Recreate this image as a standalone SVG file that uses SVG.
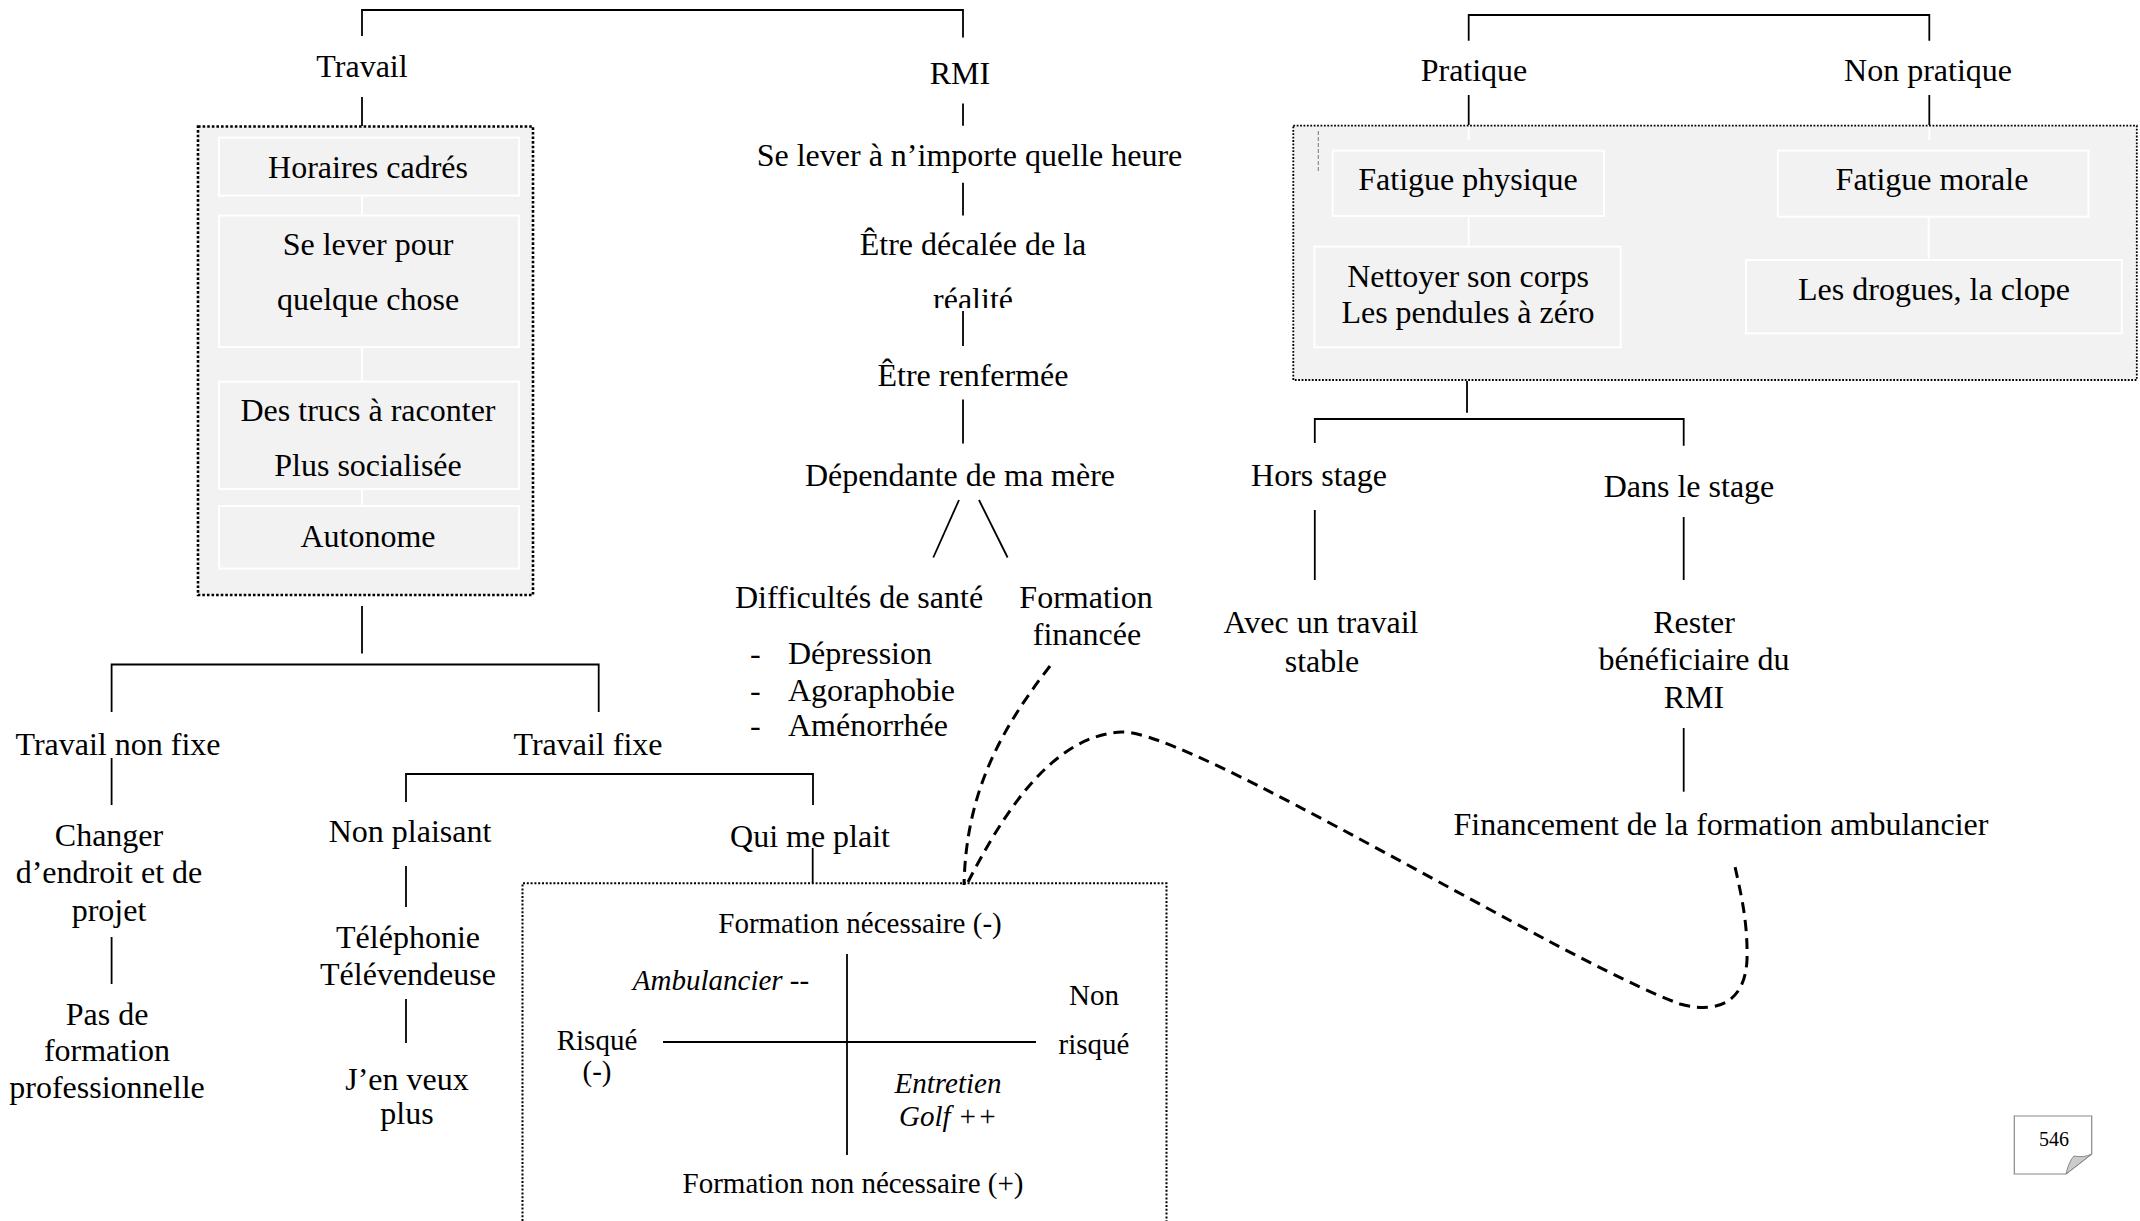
<svg xmlns="http://www.w3.org/2000/svg" width="2140" height="1221" viewBox="0 0 2140 1221">
<defs>
<style>
.t{font-family:"Liberation Serif","Times New Roman",serif;font-size:32px;fill:#000;text-anchor:middle}
.s{text-anchor:start}
.q{font-size:29px}
.i{font-style:italic}
.ln{stroke:#000;stroke-width:1.8;fill:none}
.wl{stroke:#fff;stroke-width:2;fill:none}
.dotA{fill:#f2f2f2;stroke:#000;stroke-width:2.6;stroke-dasharray:2.6 2}
.dotB{fill:#f2f2f2;stroke:#000;stroke-width:1.8;stroke-dasharray:1.8 1.6}
.dotC{fill:none;stroke:#000;stroke-width:2;stroke-dasharray:2 1.8}
.inner{fill:#f2f2f2;stroke:#fff;stroke-width:2}
.dash{stroke:#000;stroke-width:3;stroke-dasharray:11 7;fill:none}
</style>
<clipPath id="clipRealite"><rect x="900" y="280" width="150" height="28"/></clipPath>
</defs>
<rect width="2140" height="1221" fill="#fff"/>

<g id="nodes">
  <g id="n-travail"><text class="t" x="362" y="77">Travail</text></g>
  <g id="n-box-travail">
    <rect class="dotA" x="198" y="126.5" width="335" height="468.5"/>
    <g id="n-horaires"><rect class="inner" x="219" y="137.6" width="300" height="58"/><text class="t" x="368" y="178">Horaires cadrés</text></g>
    <g id="n-se-lever"><rect class="inner" x="219" y="215.5" width="300" height="131.5"/><text class="t" x="368" y="255">Se lever pour</text><text class="t" x="368" y="310">quelque chose</text></g>
    <g id="n-des-trucs"><rect class="inner" x="219" y="381.6" width="300" height="107.4"/><text class="t" x="368" y="421">Des trucs à raconter</text><text class="t" x="368" y="476">Plus socialisée</text></g>
    <g id="n-autonome"><rect class="inner" x="219" y="506" width="300" height="62.6"/><text class="t" x="368" y="547">Autonome</text></g>
  </g>
  <g id="n-travail-non-fixe"><text class="t" x="118" y="755">Travail non fixe</text></g>
  <g id="n-changer"><text class="t" x="109" y="846">Changer</text><text class="t" x="109" y="883">d’endroit et de</text><text class="t" x="109" y="921">projet</text></g>
  <g id="n-pas-de-formation"><text class="t" x="107" y="1025">Pas de</text><text class="t" x="107" y="1061">formation</text><text class="t" x="107" y="1098">professionnelle</text></g>
  <g id="n-travail-fixe"><text class="t" x="588" y="755">Travail fixe</text></g>
  <g id="n-non-plaisant"><text class="t" x="410" y="842">Non plaisant</text></g>
  <g id="n-telephonie"><text class="t" x="408" y="948">Téléphonie</text><text class="t" x="408" y="985">Télévendeuse</text></g>
  <g id="n-jen-veux"><text class="t" x="407" y="1090">J’en veux</text><text class="t" x="407" y="1124">plus</text></g>
  <g id="n-qui-me-plait"><text class="t" x="810" y="847">Qui me plait</text></g>
  <g id="n-quadrant">
    <path class="dotC" d="M522.5,1240 V883.3 H1166.5 V1240"/>
    <line class="ln" x1="847" y1="954" x2="847" y2="1155"/>
    <line class="ln" x1="663" y1="1042" x2="1036" y2="1042"/>
    <text class="t q" x="860" y="933">Formation nécessaire (-)</text>
    <text class="t q i" x="721" y="990">Ambulancier --</text>
    <text class="t q" x="1094" y="1005">Non</text>
    <text class="t q" x="1094" y="1054">risqué</text>
    <text class="t q" x="597" y="1050">Risqué</text>
    <text class="t q" x="597" y="1081">(-)</text>
    <text class="t q i" x="948" y="1093">Entretien</text>
    <text class="t q i" x="948" y="1126">Golf ++</text>
    <text class="t q" x="853" y="1193">Formation non nécessaire (+)</text>
  </g>
  <g id="n-rmi"><text class="t" x="960" y="84">RMI</text></g>
  <g id="n-se-lever-heure"><text class="t" x="969.5" y="166">Se lever à n’importe quelle heure</text></g>
  <g id="n-decalee"><text class="t" x="973" y="255">Être décalée de la</text><text class="t" x="973" y="310" clip-path="url(#clipRealite)">réalité</text></g>
  <g id="n-renfermee"><text class="t" x="973" y="385.5">Être renfermée</text></g>
  <g id="n-dependante"><text class="t" x="960" y="485.6">Dépendante de ma mère</text></g>
  <g id="n-difficultes">
    <text class="t" x="859" y="608">Difficultés de santé</text>
    <text class="t s" x="750" y="664">-</text><text class="t s" x="788" y="664">Dépression</text>
    <text class="t s" x="750" y="701">-</text><text class="t s" x="788" y="701">Agoraphobie</text>
    <text class="t s" x="750" y="736">-</text><text class="t s" x="788" y="736">Aménorrhée</text>
  </g>
  <g id="n-formation-financee"><text class="t" x="1086" y="608">Formation</text><text class="t" x="1087" y="645">financée</text></g>
  <g id="n-pratique"><text class="t" x="1474" y="81">Pratique</text></g>
  <g id="n-non-pratique"><text class="t" x="1928" y="81">Non pratique</text></g>
  <g id="n-box-fatigue">
    <rect class="dotB" x="1293.3" y="125.7" width="843.5" height="254.3"/>
    <line x1="1318.3" y1="131" x2="1318.3" y2="172" stroke="#777" stroke-width="1" stroke-dasharray="4 2"/>
    <g id="n-fatigue-physique"><rect class="inner" x="1332.7" y="150.7" width="271.3" height="65.3"/><text class="t" x="1468" y="190">Fatigue physique</text></g>
    <g id="n-nettoyer"><rect class="inner" x="1314.4" y="246.7" width="306.3" height="100.6"/><text class="t" x="1468" y="287">Nettoyer son corps</text><text class="t" x="1468" y="323">Les pendules à zéro</text></g>
    <g id="n-fatigue-morale"><rect class="inner" x="1777.8" y="150.7" width="310.7" height="66"/><text class="t" x="1932" y="190">Fatigue morale</text></g>
    <g id="n-drogues"><rect class="inner" x="1746" y="260" width="375.8" height="73.3"/><text class="t" x="1934" y="300">Les drogues, la clope</text></g>
  </g>
  <g id="n-hors-stage"><text class="t" x="1319" y="486">Hors stage</text></g>
  <g id="n-dans-stage"><text class="t" x="1689" y="497">Dans le stage</text></g>
  <g id="n-avec-travail"><text class="t" x="1321" y="633">Avec un travail</text><text class="t" x="1322" y="672">stable</text></g>
  <g id="n-rester"><text class="t" x="1694" y="633">Rester</text><text class="t" x="1694" y="670">bénéficiaire du</text><text class="t" x="1694" y="708">RMI</text></g>
  <g id="n-financement"><text class="t" x="1721" y="835">Financement de la formation ambulancier</text></g>
  <g id="n-page">
    <path d="M2014.3,1116 H2091.7 V1154 L2066,1174 H2014.3 Z" fill="#fff" stroke="#888" stroke-width="1.2"/>
    <path d="M2066,1174 Q2069,1161 2074,1156 Q2084,1158 2091.7,1154 Z" fill="#ccc" stroke="#888" stroke-width="1"/>
    <text class="t" style="font-size:20px" x="2054" y="1146">546</text>
  </g>
</g>

<g id="connectors">
  <path class="ln" d="M362,36 V10 H963 V37.6"/>
  <line class="ln" x1="362" y1="97" x2="362" y2="126"/>
  <line class="wl" x1="362" y1="196.7" x2="362" y2="214.5"/>
  <line class="wl" x1="362" y1="348" x2="362" y2="380.6"/>
  <line class="wl" x1="362" y1="490" x2="362" y2="505"/>
  <line class="ln" x1="362" y1="606" x2="362" y2="653.5"/>
  <path class="ln" d="M111.6,712 V664.5 H598.7 V712"/>
  <line class="ln" x1="111.6" y1="758" x2="111.6" y2="805"/>
  <line class="ln" x1="111.6" y1="937" x2="111.6" y2="984"/>
  <path class="ln" d="M406,802 V774 H813 V805"/>
  <line class="ln" x1="406" y1="866" x2="406" y2="907"/>
  <line class="ln" x1="406" y1="999" x2="406" y2="1043"/>
  <line class="ln" x1="812.7" y1="848" x2="812.7" y2="883"/>
  <line class="ln" x1="963" y1="103.6" x2="963" y2="125.7"/>
  <line class="ln" x1="963" y1="182.7" x2="963" y2="215.5"/>
  <line class="ln" x1="963" y1="311" x2="963" y2="346"/>
  <line class="ln" x1="963" y1="399.4" x2="963" y2="443.6"/>
  <line class="ln" x1="959" y1="500" x2="933.3" y2="557.5"/>
  <line class="ln" x1="979" y1="500" x2="1007.6" y2="557.5"/>
  <path class="ln" d="M1468.7,40.7 V15 H1929.3 V40.7"/>
  <line class="ln" x1="1468.7" y1="95" x2="1468.7" y2="125"/>
  <line class="ln" x1="1929.3" y1="95" x2="1929.3" y2="125"/>
  <line class="wl" x1="1468.7" y1="127" x2="1468.7" y2="140"/>
  <line class="wl" x1="1929.3" y1="127" x2="1929.3" y2="140"/>
  <line class="wl" x1="1468.7" y1="217" x2="1468.7" y2="245.7"/>
  <line class="wl" x1="1928.7" y1="217.7" x2="1928.7" y2="259"/>
  <line class="ln" x1="1467" y1="381" x2="1467" y2="412.7"/>
  <path class="ln" d="M1314.8,443 V419 H1683.7 V445.7"/>
  <line class="ln" x1="1314.8" y1="510" x2="1314.8" y2="580"/>
  <line class="ln" x1="1683.7" y1="517" x2="1683.7" y2="580"/>
  <line class="ln" x1="1683.7" y1="728" x2="1683.7" y2="791.7"/>
  <path class="dash" d="M1050,666 C998,733 966,795 964,885"/>
  <path class="dash" d="M968,882 C1000,820 1050,735 1122,732 C1190,730 1560,960 1680,1004 C1720,1015 1745,1000 1747,960 C1748,920 1740,890 1734,862"/>
</g>
</svg>
